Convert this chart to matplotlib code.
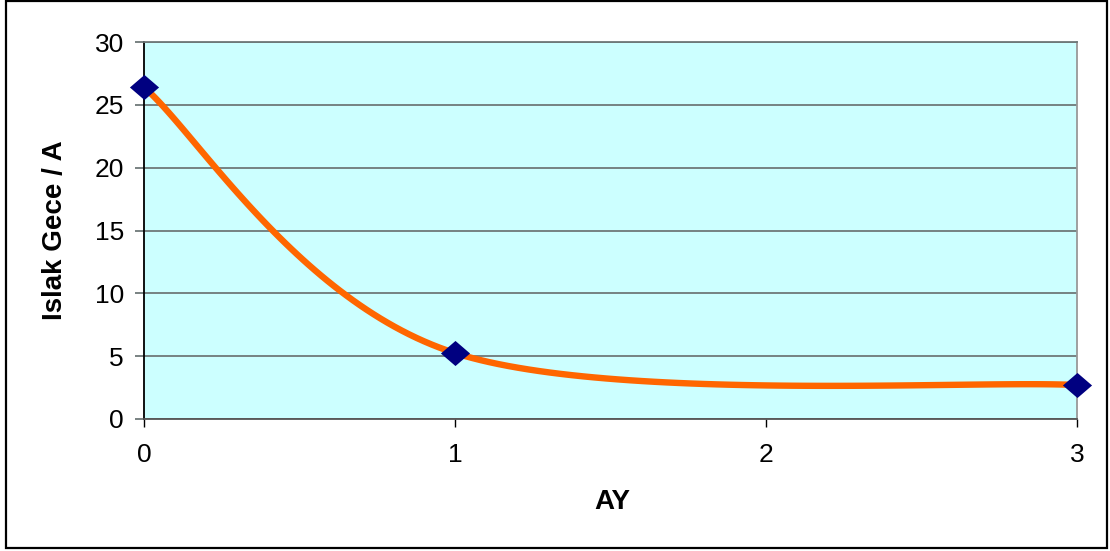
import numpy as np
import matplotlib
matplotlib.use("Agg")
import matplotlib.pyplot as plt
from matplotlib.patches import Rectangle

# Veriler
ay = [0, 1, 3]
akim = [26.4, 5.25, 2.7]
x_ticks = [0, 1, 2, 3]
y_ticks = [0, 5, 10, 15, 20, 25, 30]

plt.rcParams['font.family'] = ['Liberation Sans', 'DejaVu Sans']


def excel_smooth(xs, ys, n=60):
    # Excel tarzi Bezier yumusatma (Catmull-Rom, 1/6 kontrol noktasi)
    p = np.column_stack([xs, ys]).astype(float)
    out = []
    for i in range(len(p) - 1):
        p0 = p[i - 1] if i > 0 else p[i]
        p1 = p[i]
        p2 = p[i + 1]
        p3 = p[i + 2] if i + 2 < len(p) else p[i + 1]
        c1 = p1 + (p2 - p0) / 6.0
        c2 = p2 - (p3 - p1) / 6.0
        t = np.linspace(0, 1, n)[:, None]
        seg = ((1 - t) ** 3) * p1 + 3 * ((1 - t) ** 2) * t * c1 \
            + 3 * (1 - t) * t ** 2 * c2 + t ** 3 * p2
        out.append(seg if i == 0 else seg[1:])
    out = np.vstack(out)
    return out[:, 0], out[:, 1]


fig = plt.figure(figsize=(11.1, 5.51), dpi=100)
ax = fig.add_axes([144 / 1110, 1 - 419 / 551, (1077 - 144) / 1110, (419 - 42) / 551])
ax.set_facecolor('#CCFFFF')

sx, sy = excel_smooth(ay, akim)
ax.plot(sx, sy, color='#FF6600', linewidth=4.6, solid_capstyle='butt', zorder=3)
diamond = [(-1, 0), (0, 0.86), (1, 0), (0, -0.86), (-1, 0)]
ax.plot(ay, akim, linestyle='none', marker=diamond, markersize=21,
        color='#000080', markeredgewidth=0, zorder=4, clip_on=False)

ax.set_xlim(0, 3)
ax.set_ylim(0, 30)
ax.set_xticks(x_ticks)
ax.set_yticks(y_ticks)
ax.yaxis.grid(True, color='#6E7878', linewidth=1.3)
ax.set_axisbelow(True)

ax.spines['left'].set_color('black')
ax.spines['bottom'].set_color('#555555')
ax.spines['right'].set_color('#999999')
ax.spines['top'].set_color('#6E7878')
for s in ax.spines.values():
    s.set_linewidth(1.3)

ax.tick_params(axis='y', length=6.5, width=1.3, color='#6E7878', pad=8,
               labelsize=19)
ax.tick_params(axis='x', length=6, width=1, color='black', pad=11,
               labelsize=19)

ax.set_xlabel('AY', fontsize=20, fontweight='bold')
ax.xaxis.set_label_coords(0.502, -0.22)
ax.xaxis.label.set_va('center')
ax.set_ylabel('Islak Gece / A', fontsize=20, fontweight='bold')
ax.yaxis.set_label_coords(-0.095, 0.5)
ax.yaxis.label.set_va('center')

# Dis cerceve
fig.patches.append(Rectangle((6 / 1110, 1 - 548 / 551), (1107 - 6) / 1110,
                             (548 - 1) / 551, transform=fig.transFigure,
                             fill=False, edgecolor='black', linewidth=1.6))

fig.savefig('out.png', dpi=100)
